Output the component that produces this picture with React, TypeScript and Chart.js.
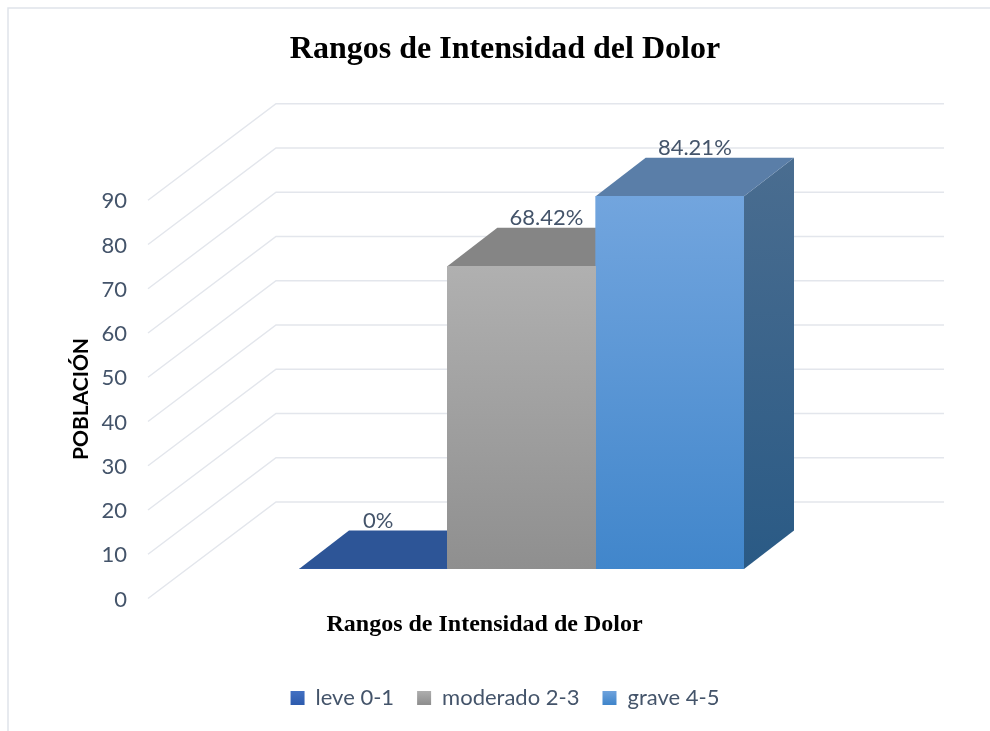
import React, { useEffect, useRef } from "react";
import { Chart, registerables } from "chart.js";

Chart.register(...registerables);

const categories = ["Rangos de Intensidad de Dolor"];
const seriesNames = ["leve 0-1", "moderado 2-3", "grave 4-5"];
const leve = [0];
const moderado = [68.42];
const grave = [84.21];
const yTicksMax = 90;
const chartTitle = "Rangos de Intensidad del Dolor";
const xTitle = "Rangos de Intensidad de Dolor";
const yTitle = "POBLACIÓN";

const textColor = "#44546A";
const gridColor = "#E3E6EC";
const sansFont = "Lato, 'Noto Sans', sans-serif";
const serifFont = "'Liberation Serif', 'Times New Roman', serif";

const faces = [
  { front: ["#3A66B4", "#2D5597"], legend: ["#4472C4", "#2E5CAE"], top: "#2D5597", side: ["#2D5597", "#24467D"], labelDx: 5 },
  { front: ["#B0B0B0", "#8F8F8F"], legend: ["#B0B0B0", "#8F8F8F"], top: "#858585", side: ["#808080", "#606060"], labelDx: 25 },
  { front: ["#72A5DE", "#4186CB"], legend: ["#72A5DE", "#4186CB"], top: "#5A7EA8", side: ["#4A6D90", "#2A5A85"], labelDx: 25 },
];

const PLOT_TOP = 170.75;
const PLOT_BOTTOM = 569;
const LEGEND_TOP = 664;
const DEPTH_X = 50;
const DEPTH_Y = 38.5;
const BACK_DX = 276 - 299; // back wall left corner relative to the plot's left edge
const BACK_DY = -67;
const FRONT_X = 148;
const FRONT_DY = 29.5;
const RIGHT_X = 944;

const poly = (ctx: CanvasRenderingContext2D, pts: number[][], fill: any) => {
  ctx.beginPath();
  pts.forEach(([x, y], i) => (i ? ctx.lineTo(x, y) : ctx.moveTo(x, y)));
  ctx.closePath();
  ctx.fillStyle = fill;
  ctx.fill();
};

const scene = {
  id: "scene",
  afterLayout(chart: any) {
    const { x, y, wall } = chart.scales;
    const area = chart.chartArea;
    area.top = PLOT_TOP;
    area.bottom = PLOT_BOTTOM;
    area.height = PLOT_BOTTOM - PLOT_TOP;
    [y, wall].forEach((s: any) => {
      s.top = PLOT_TOP;
      s.bottom = PLOT_BOTTOM;
      s.height = PLOT_BOTTOM - PLOT_TOP;
      s.configure();
    });
    x.top = PLOT_BOTTOM;
    x.bottom = LEGEND_TOP;
    x.configure();
    const t = chart.titleBlock;
    const th = t.height;
    t.top = 0;
    t.bottom = th;
    const l = chart.legend;
    const lh = l.height;
    l.top = LEGEND_TOP;
    l.bottom = LEGEND_TOP + lh;
  },
  beforeDraw(chart: any) {
    const { ctx } = chart;
    ctx.save();
    ctx.strokeStyle = "#DFE4EA";
    ctx.lineWidth = 1.5;
    ctx.beginPath();
    ctx.moveTo(8, 731);
    ctx.lineTo(8, 8);
    ctx.lineTo(990, 8);
    ctx.stroke();
    ctx.restore();
  },
  beforeDatasetsDraw(chart: any) {
    const { ctx, scales } = chart;
    const yScale = scales.y;
    const cornerX = chart.chartArea.left + BACK_DX;
    ctx.save();
    // wall and floor grid, following the value axis
    ctx.strokeStyle = gridColor;
    ctx.lineWidth = 1.5;
    yScale.ticks.forEach((t: any) => {
      const p = yScale.getPixelForValue(t.value);
      ctx.beginPath();
      ctx.moveTo(FRONT_X, p + FRONT_DY);
      ctx.lineTo(cornerX, p + BACK_DY);
      ctx.lineTo(RIGHT_X, p + BACK_DY);
      ctx.stroke();
    });
    // depth faces of each bar
    chart.data.datasets.forEach((_: any, i: number) => {
      const el = chart.getDatasetMeta(i).data[0];
      if (!el) return;
      const l = el.x - el.width / 2;
      const r = el.x + el.width / 2;
      const top = el.y;
      const base = el.base;
      const f = faces[i];
      const g = ctx.createLinearGradient(0, top - DEPTH_Y, 0, base);
      g.addColorStop(0, f.side[0]);
      g.addColorStop(1, f.side[1]);
      poly(ctx, [[r, top], [r + DEPTH_X, top - DEPTH_Y], [r + DEPTH_X, base - DEPTH_Y], [r, base]], g);
      poly(ctx, [[l, top], [l + DEPTH_X, top - DEPTH_Y], [r + DEPTH_X, top - DEPTH_Y], [r, top]], f.top);
    });
    ctx.restore();
  },
  afterDatasetsDraw(chart: any) {
    const { ctx } = chart;
    ctx.save();
    // data labels on the back edge of each bar's top
    ctx.font = `22px ${sansFont}`;
    ctx.fillStyle = textColor;
    ctx.textAlign = "center";
    ctx.textBaseline = "middle";
    chart.data.datasets.forEach((ds: any, i: number) => {
      const el = chart.getDatasetMeta(i).data[0];
      if (!el) return;
      ctx.fillText(`${ds.data[0]}%`, el.x + faces[i].labelDx, el.y - DEPTH_Y - 10);
    });
    // axis captions
    ctx.fillStyle = "#000";
    ctx.font = `bold 24px ${serifFont}`;
    ctx.fillText(xTitle, 484.5, 625);
    ctx.translate(81, 399);
    ctx.rotate(-Math.PI / 2);
    ctx.font = `bold 21px ${sansFont}`;
    ctx.fillText(yTitle, 0, 0);
    ctx.restore();
  },
};

const fillFor = (i: number, values: number[]) => (c: any) => {
  const chart = c.chart;
  const f = faces[i];
  const y = chart.scales?.y;
  if (!y) return f.front[0];
  const y0 = y.getPixelForValue(values[c.dataIndex] ?? 0);
  const y1 = y.getPixelForValue(0);
  if (!Number.isFinite(y0) || !Number.isFinite(y1) || y1 - y0 < 1) return f.front[0];
  const g = chart.ctx.createLinearGradient(0, y0, 0, y1);
  g.addColorStop(0, f.front[0]);
  g.addColorStop(1, f.front[1]);
  return g;
};

const legendLabels = (chart: any) =>
  Chart.defaults.plugins.legend.labels.generateLabels(chart).map((item: any, i: number) => {
    const lg = chart.ctx.createLinearGradient(0, 690, 0, 704);
    lg.addColorStop(0, faces[i].legend[0]);
    lg.addColorStop(1, faces[i].legend[1]);
    return { ...item, fillStyle: lg, lineWidth: 0 };
  });

export default function App() {
  const ref = useRef<HTMLCanvasElement>(null);
  useEffect(() => {
    document.body.style.margin = "0";
    const chart = new Chart(ref.current as HTMLCanvasElement, {
      type: "bar",
      plugins: [scene],
      data: {
        labels: categories,
        datasets: [
          { label: seriesNames[0], data: leve, backgroundColor: fillFor(0, leve) },
          { label: seriesNames[1], data: moderado, backgroundColor: fillFor(1, moderado) },
          { label: seriesNames[2], data: grave, backgroundColor: fillFor(2, grave) },
        ],
      },
      options: {
        animation: false,
        responsive: false,
        devicePixelRatio: 1,
        layout: { autoPadding: false, padding: { left: 20, right: 0, top: 0, bottom: 0 } },
        datasets: { bar: { barPercentage: 1, categoryPercentage: 1, borderWidth: 0 } },
        plugins: {
          title: {
            display: true,
            text: chartTitle,
            color: "#000",
            font: { family: serifFont, size: 32, weight: "bold" },
            padding: { top: 31, bottom: 30 },
          },
          legend: {
            position: "bottom",
            labels: {
              boxWidth: 14,
              boxHeight: 14,
              padding: 23,
              color: textColor,
              font: { family: sansFont, size: 22 },
              generateLabels: legendLabels,
            },
          },
          tooltip: { enabled: false },
        },
        scales: {
          x: {
            ticks: { display: false },
            grid: { display: false },
            border: { display: false },
          },
          y: {
            min: 0,
            max: yTicksMax,
            grid: { display: false },
            border: { display: false },
            ticks: {
              stepSize: 10,
              padding: 164,
              labelOffset: 30.5,
              color: textColor,
              font: { family: sansFont, size: 22 },
            },
            afterFit: (s: any) => {
              s.width = 279;
            },
          },
          // empty axis on the right: keeps the room where the wall grid runs past the bars
          wall: {
            display: true,
            position: "right",
            ticks: { display: false },
            grid: { display: false },
            border: { display: false },
            afterFit: (s: any) => {
              s.width = 246;
            },
          },
        },
      },
    } as any);
    return () => chart.destroy();
  }, []);
  return (
    <div style={{ position: "absolute", left: 0, top: 0, width: 990, height: 731 }}>
      <canvas ref={ref} width={990} height={731} style={{ display: "block" }} />
    </div>
  );
}
